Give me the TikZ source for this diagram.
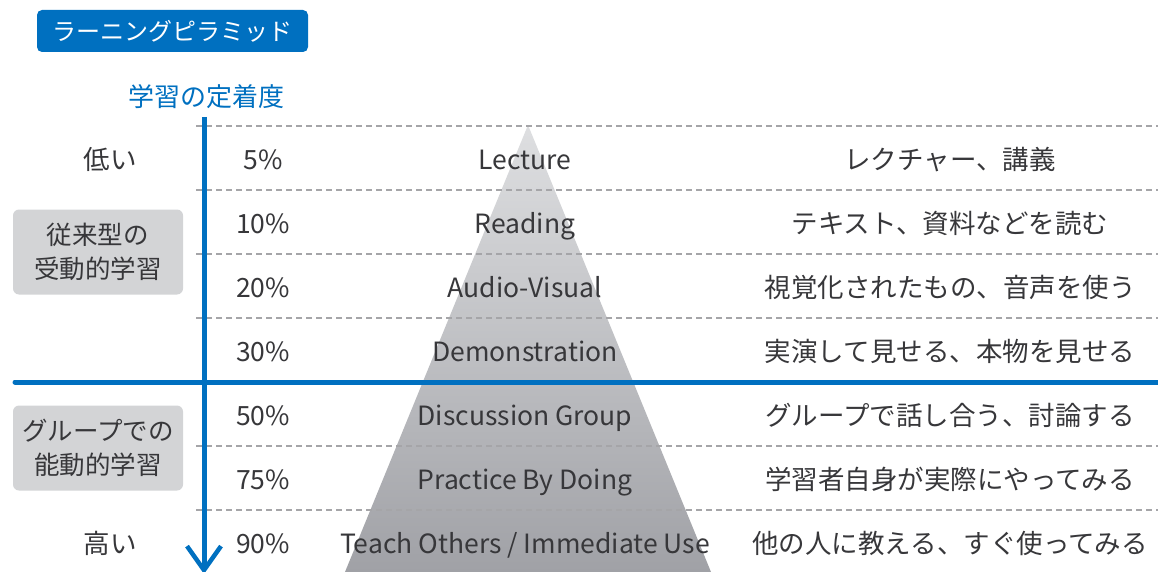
\documentclass[tikz,border=0pt]{standalone}
\usepackage{fontspec}
\setmainfont{Noto Sans CJK JP}
\usetikzlibrary{arrows.meta}
\definecolor{mblue}{RGB}{0,112,192}
\definecolor{txt}{RGB}{55,55,58}
\definecolor{boxgray}{RGB}{211,212,214}
\definecolor{dashgray}{RGB}{165,165,168}
\definecolor{pyrtop}{RGB}{222,223,225}
\definecolor{pyrbot}{RGB}{160,161,166}
\tikzset{
  rowtxt/.style={font=\fontsize{26.5}{30}\selectfont, text=txt, inner sep=0pt, anchor=base},
  sidebox/.style={fill=boxgray, rounded corners=6pt, minimum width=170pt, minimum height=85pt, inner sep=0pt, align=center, text=txt, font=\fontsize{25.5}{34}\selectfont},
  sep/.style={dashgray, line width=1.3pt, dash pattern=on 6pt off 4pt},
}
\begin{document}
\begin{tikzpicture}[x=1pt,y=-1pt]
\useasboundingbox (0,0) rectangle (1158,572);
% pyramid
\shade[top color=pyrtop, bottom color=pyrbot] (528,125) -- (711,572) -- (345,572) -- cycle;
% dashed separators
\foreach \yy in {126,190,254,318,446,510} \draw[sep] (196,\yy) -- (1158,\yy);
% title
\node[fill=mblue, rounded corners=5pt, minimum width=271pt, minimum height=42pt, inner sep=0pt, text=white, font=\fontsize{24}{28}\selectfont] (title) at (172.5,31) {ラーニングピラミッド};
\node[text=mblue, font=\fontsize{26}{30}\selectfont, inner sep=0pt] (axis) at (206,97) {学習の定着度};
% axis arrow and divider
\coordinate (atop) at (204,117);
\coordinate (abot) at (204,574);
\draw[mblue, line width=5pt, -{Straight Barb[length=24pt, width=34pt, line width=4.5pt]}] (atop) -- (abot);
\coordinate (hl) at (15,382);
\coordinate (hr) at (1158,382);
\draw[mblue, line width=5pt, line cap=round] (hl) -- (hr);
% side labels
\node[rowtxt] (low) at (110,169.5) {低い};
\node[rowtxt] (high) at (110,553.5) {高い};
\node[sidebox] (passive) at (98,252) {従来型の\\受動的学習};
\node[sidebox] (active) at (98,448) {グループでの\\能動的学習};
% rows
\foreach \i/\p/\e/\j in {
  0/5\%/Lecture/レクチャー、講義,
  1/10\%/Reading/テキスト、資料などを読む,
  2/20\%/Audio-Visual/視覚化されたもの、音声を使う,
  3/30\%/Demonstration/実演して見せる、本物を見せる,
  4/50\%/Discussion Group/グループで話し合う、討論する,
  5/75\%/Practice By Doing/学習者自身が実際にやってみる,
  6/90\%/{Teach Others / Immediate Use}/他の人に教える、すぐ使ってみる}
{
  \node[rowtxt] (p\i) at (263,169.5+64*\i) {\p};
  \node[rowtxt] (e\i) at (525,169.5+64*\i) {\e};
  \node[rowtxt] (j\i) at (950,169.5+64*\i) {\j};
}
\end{tikzpicture}
\end{document}
